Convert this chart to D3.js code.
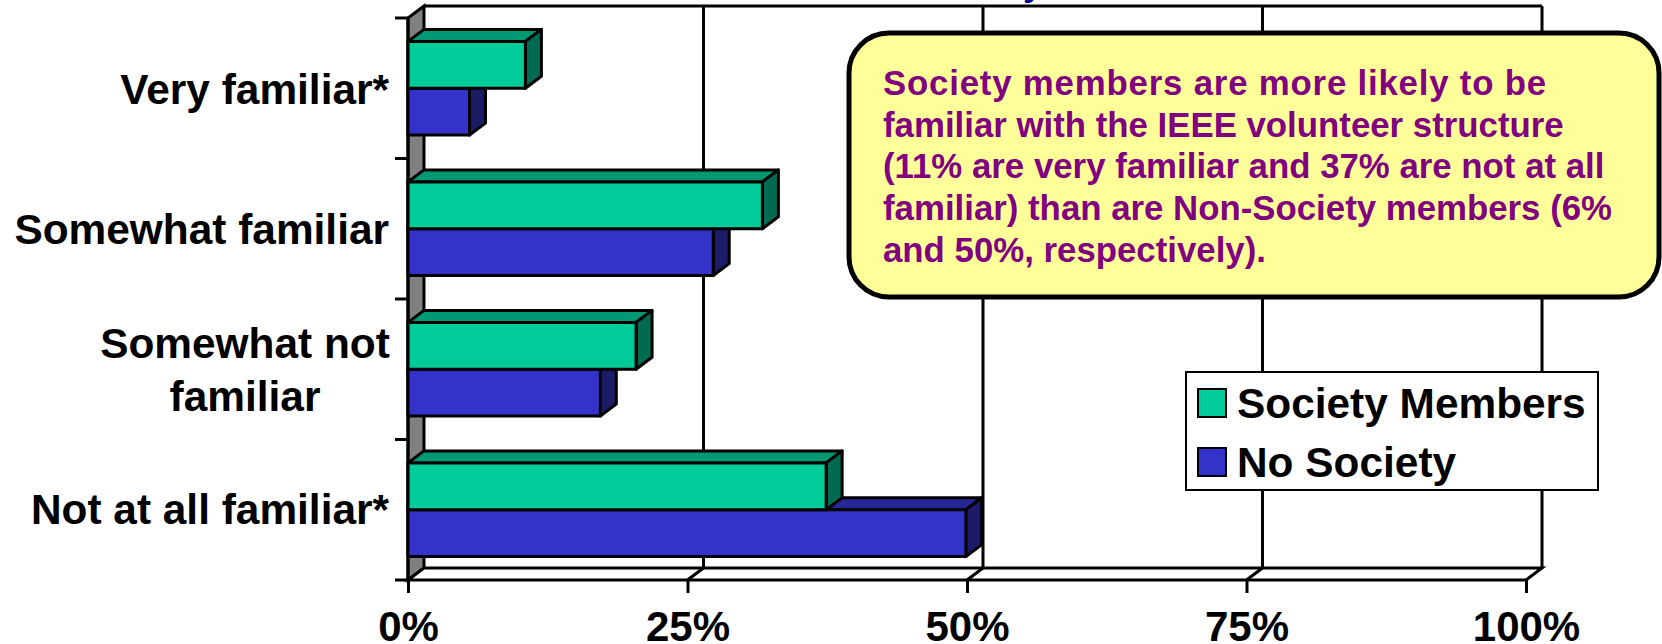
<!DOCTYPE html>
<html><head><meta charset="utf-8">
<script src="https://cdn.jsdelivr.net/npm/d3@7"></script>
<style>html,body{margin:0;padding:0;background:#fff}svg{display:block}text{font-family:"Liberation Sans",Arial,sans-serif;font-weight:bold}</style>
</head><body><svg id="c" width="1662" height="644"></svg>
<script>
const categories = [["Very familiar*"],["Somewhat familiar"],["Somewhat not","familiar"],["Not at all familiar*"]];
const societyMembers = [10.5, 31.7, 20.4, 37.4];
const noSociety = [5.5, 27.3, 17.2, 49.9];
const seriesNames = ["Society Members","No Society"];
const tickValues = [0,25,50,75,100];
const calloutLines = ["Society members are more likely to be","familiar with the IEEE volunteer structure","(11% are very familiar and 37% are not at all","familiar) than are Non-Society members (6%","and 50%, respectively)."];

const svg = d3.select("#c");
const dx = 16, dy = -12, sw = 3;
const x = d3.scaleLinear().domain([0,100]).range([408,1526]);
const y = d3.scaleBand().domain(d3.range(4)).range([18,580]);
const line = p => "M"+p.map(q=>q.join(",")).join("L")+"Z";
const x0=x(0), x1=x(100), yT=y.range()[0], yB=y.range()[1];

// cut-off title fragment
svg.append("text").attr("x",1023).attr("y",-5).attr("font-size",36).attr("fill","#000099").text("y");

// wall
svg.append("path").attr("d",line([[x0,yT],[x0+dx,yT+dy],[x0+dx,yB+dy],[x0,yB]])).attr("fill","#808080").attr("stroke","#000").attr("stroke-width",sw);
// back top edge + gridlines
svg.append("line").attr("x1",x0+dx).attr("x2",x1+dx).attr("y1",yT+dy).attr("y2",yT+dy).attr("stroke","#000").attr("stroke-width",sw);
svg.selectAll(".g").data(tickValues.slice(1)).join("line").attr("x1",d=>x(d)+dx).attr("x2",d=>x(d)+dx).attr("y1",yT+dy).attr("y2",yB+dy).attr("stroke","#000").attr("stroke-width",sw);
// floor
svg.append("path").attr("d",line([[x0,yB],[x0+dx,yB+dy],[x1+dx,yB+dy],[x1,yB]])).attr("fill","#fff").attr("stroke","#000").attr("stroke-width",sw);
svg.selectAll(".f").data(tickValues.slice(1,-1)).join("line").attr("x1",d=>x(d)).attr("x2",d=>x(d)+dx).attr("y1",yB).attr("y2",yB+dy).attr("stroke","#000").attr("stroke-width",sw);

// axes
const gx = svg.append("g").attr("transform",`translate(0,${yB})`).call(d3.axisBottom(x).tickValues(tickValues).tickSize(13).tickFormat(d=>d+"%"));
gx.select(".domain").remove();
gx.selectAll("line").attr("stroke","#000").attr("stroke-width",sw);
gx.selectAll("text").attr("fill","#000").attr("font-size",42).attr("y",0).attr("dy",null).attr("transform","translate(0,61)");
const yTicks = d3.range(5).map(i=>yT+i*y.step());
svg.selectAll(".yt").data(yTicks).join("line").attr("x1",x0-13).attr("x2",x0).attr("y1",d=>d).attr("y2",d=>d).attr("stroke","#000").attr("stroke-width",sw);
svg.append("line").attr("x1",x0).attr("x2",x0).attr("y1",yT).attr("y2",yB).attr("stroke","#000").attr("stroke-width",sw);

// bars
const hB = y.step()/3;
function bar(v,i,off,c){
  const xe=x(v), t=y(i)+hB*(off+0.5), b=t+hB;
  const g=svg.append("g").attr("stroke","#000").attr("stroke-width",sw).attr("stroke-linejoin","round");
  g.append("path").attr("d",line([[x0,t],[x0+dx,t+dy],[xe+dx,t+dy],[xe,t]])).attr("fill",c[1]);
  g.append("path").attr("d",line([[xe,t],[xe+dx,t+dy],[xe+dx,b+dy],[xe,b]])).attr("fill",c[2]);
  g.append("rect").attr("x",x0).attr("y",t).attr("width",xe-x0).attr("height",hB).attr("fill",c[0]);
}
const green=["#00CC99","#009973","#006B50"], blue=["#3333CC","#262699","#1C1C66"];
d3.range(4).forEach(i=>{ bar(noSociety[i],i,1,blue); bar(societyMembers[i],i,0,green); });

// category labels
const labelBase = [[104],[244],[358,411],[524]];
categories.forEach((ls,i)=>ls.forEach((s,j)=>{
  svg.append("text").attr("x",ls.length>1?245:389).attr("y",labelBase[i][j]).attr("text-anchor",ls.length>1?"middle":"end").attr("font-size",42.4).attr("fill","#000").text(s);
}));

// callout
svg.append("rect").attr("x",849).attr("y",33).attr("width",810).attr("height",264).attr("rx",40).attr("fill","#FFFF99").attr("stroke","#000").attr("stroke-width",5);
const calloutSpacing = [0.8,0,0,0,0];
svg.selectAll(".cl").data(calloutLines).join("text").attr("x",883).attr("y",(d,i)=>95+i*41.7).attr("font-size",34.8).attr("fill","#800080").attr("letter-spacing",(d,i)=>calloutSpacing[i]).text(d=>d);

// legend
svg.append("rect").attr("x",1186).attr("y",372).attr("width",412).attr("height",118).attr("fill","#fff").attr("stroke","#000").attr("stroke-width",2);
seriesNames.forEach((n,i)=>{
  const yy=[389,448][i];
  svg.append("rect").attr("x",1198).attr("y",yy).attr("width",28).attr("height",28).attr("fill",[green,blue][i][0]).attr("stroke","#000").attr("stroke-width",2);
  svg.append("text").attr("x",1237).attr("y",yy+29).attr("font-size",42.4).attr("fill","#000").text(n);
});
</script></body></html>
